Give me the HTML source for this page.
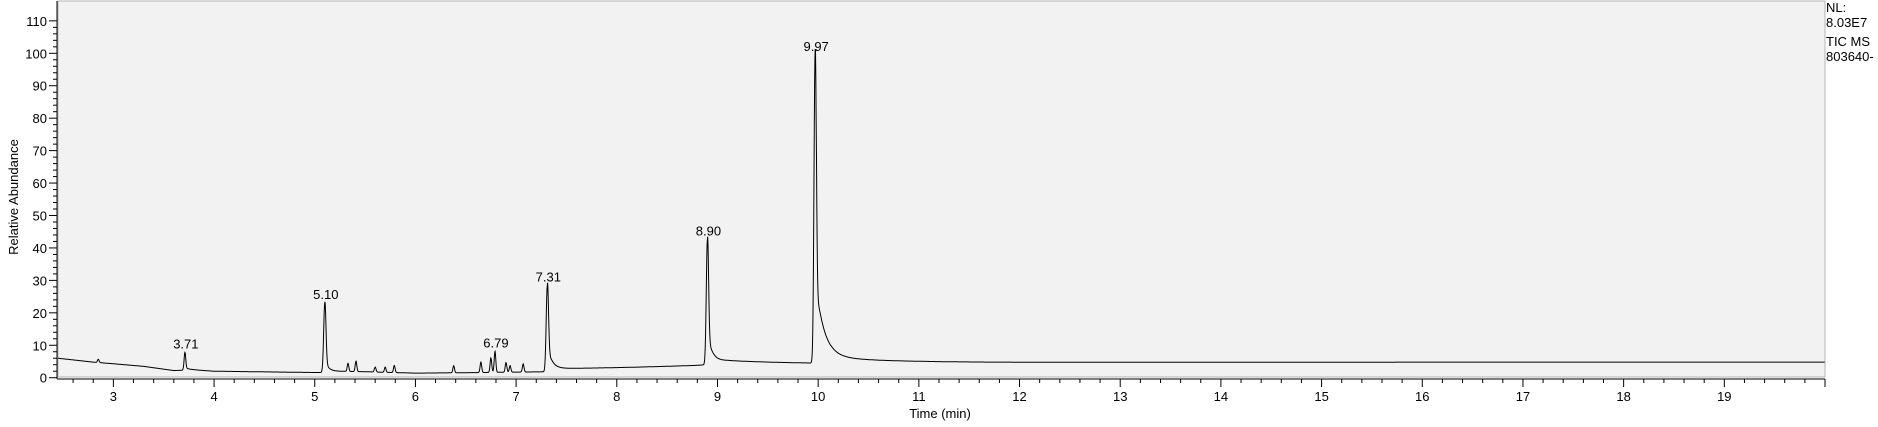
<!DOCTYPE html>
<html><head><meta charset="utf-8"><style>
body{margin:0;background:#fff;}
svg{display:block;font-family:"Liberation Sans",Arial,sans-serif;}
</style></head><body>
<svg id="chart" width="1878" height="427" viewBox="0 0 1878 427" xmlns="http://www.w3.org/2000/svg">
<rect x="58" y="1" width="1767" height="376" fill="#f2f2f2" stroke="#b4b4b4" stroke-width="1"/>
<g id="axes"></g>
<path id="trace" fill="none" stroke="#000" stroke-width="1"/>
<g id="labels"></g>
<text transform="translate(18,197) rotate(-90)" text-anchor="middle" font-size="13" fill="#000">Relative Abundance</text>
<text x="940" y="418" text-anchor="middle" font-size="13" fill="#000">Time (min)</text>
<g font-size="13" fill="#000">
<text x="1826" y="12">NL:</text>
<text x="1826" y="27">8.03E7</text>
<text x="1826" y="46">TIC  MS</text>
<text x="1826" y="61">803640-</text>
</g>
</svg>
<script>
const xTicks=[3,4,5,6,7,8,9,10,11,12,13,14,15,16,17,18,19];
const yTicks=[0,10,20,30,40,50,60,70,80,90,100,110];
const baseT=[2.45,2.8,3.0,3.3,3.6,3.8,4.0,4.5,5.0,5.5,6.0,6.5,7.0,7.28,7.6,8.0,8.78,9.1,9.92,11,12,16,20];
const baseV=[6.0,4.8,4.3,3.5,2.2,2.4,2.0,1.8,1.6,1.6,1.3,1.5,1.7,1.8,2.3,2.8,3.7,4.4,4.3,4.6,4.7,4.8,4.8];
const peakT=[2.85,3.71,5.10,5.33,5.41,5.60,5.70,5.79,6.38,6.65,6.75,6.79,6.90,6.94,7.07,7.31,8.90,9.97];
const peakH=[1.0,5.5,21.5,2.5,3.2,1.5,1.6,2.2,2.2,3.2,4.5,6.5,3.0,2.0,2.5,26.5,38.5,95];
const peakTail=[0,1,4,0,0,0,0,0,0,0,0,0,0,0,0,8,10,25];
const peakTau=[0.05,0.04,0.03,0.05,0.05,0.05,0.05,0.05,0.05,0.05,0.05,0.05,0.05,0.05,0.05,0.04,0.04,0.08];
const peakSlow=[0,0,0.5,0,0,0,0,0,0,0,0,0,0,0,0,1.0,1.2,2.4];
const labelT=["3.71","5.10","6.79","7.31","8.90","9.97"];
const labelIdx=[1,2,11,15,16,17];
const x0=2.45,x1=20,px0=58,px1=1825;
const X=t=>px0+(t-x0)/(x1-x0)*(px1-px0);
const Y=v=>377.7-v*3.244;
const ns="http://www.w3.org/2000/svg";
function base(t){for(let i=0;i<baseT.length-1;i++){if(t<=baseT[i+1]){const f=(t-baseT[i])/(baseT[i+1]-baseT[i]);return baseV[i]+f*(baseV[i+1]-baseV[i]);}}return baseV[baseV.length-1];}
function sig(t){let v=base(t);for(let i=0;i<peakT.length;i++){const d=t-peakT[i];const s=peakH[i]>20?0.011:0.008;v+=peakH[i]*Math.exp(-d*d/(2*s*s));if(d>0){const r=(1-Math.exp(-d/0.012));v+=r*(peakTail[i]*Math.exp(-d/peakTau[i])+peakSlow[i]*Math.exp(-d/0.6));}}return v;}
let d="";for(let t=x0;t<=x1;t+=0.003){d+=(d?"L":"M")+X(t).toFixed(1)+","+Y(sig(t)).toFixed(1);}
document.getElementById('trace').setAttribute('d',d);
const ax=document.getElementById('axes');
function el(tag,attrs,txt){const e=document.createElementNS(ns,tag);for(const k in attrs)e.setAttribute(k,attrs[k]);if(txt!==undefined)e.textContent=txt;ax.appendChild(e);return e;}
let e=el('line',{x1:57,y1:1,x2:57,y2:379,stroke:'#000'});


e=el('line',{x1:57,y1:379,x2:1825,y2:379,stroke:'#000'});


for(let v=0;v<=110;v+=2){const major=v%10===0;el('line',{x1:major?49:53,y1:Y(v),x2:57,y2:Y(v),stroke:'#000'});}
yTicks.forEach(v=>{const t=el('text',{x:47,y:Y(v)+5,'text-anchor':'end','font-size':13},String(v));

});
for(let k=Math.ceil(x0*5);k<=x1*5;k++){const t=k/5;const major=k%5===0;el('line',{x1:X(t),y1:379,x2:X(t),y2:major?387:383,stroke:'#000'});}
xTicks.forEach(v=>{const t=el('text',{x:X(v),y:401,'text-anchor':'middle','font-size':13},String(v));

});
const lg=document.getElementById('labels');
labelIdx.forEach((pi,j)=>{const t=document.createElementNS(ns,'text');t.setAttribute('x',X(peakT[pi])+1);t.setAttribute('y',Y(sig(peakT[pi]))-4);t.setAttribute('text-anchor','middle');t.setAttribute('font-size','13');t.textContent=labelT[j];


lg.appendChild(t);});
</script>
</body></html>
